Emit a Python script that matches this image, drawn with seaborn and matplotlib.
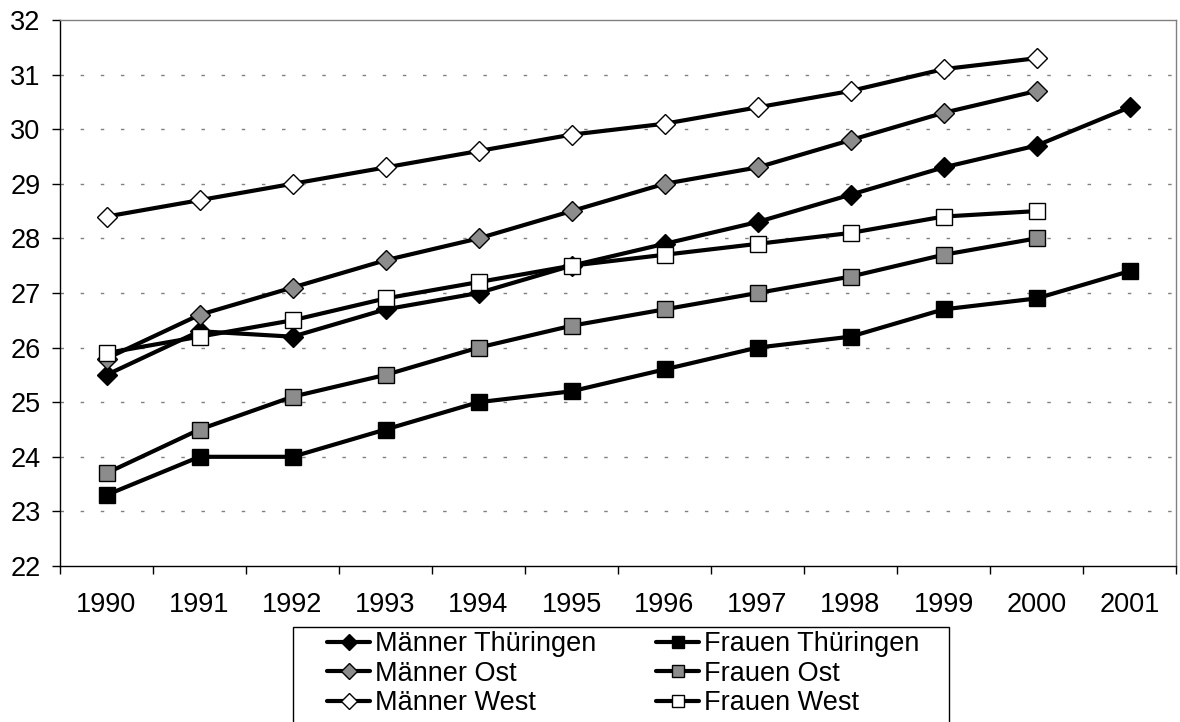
import matplotlib
matplotlib.use("Agg")
import matplotlib.pyplot as plt
import seaborn as sns
import pandas as pd
import numpy as np
from matplotlib.ticker import FixedLocator
from matplotlib.patches import Rectangle

years = ["1990", "1991", "1992", "1993", "1994", "1995", "1996", "1997", "1998", "1999", "2000", "2001"]

maenner_thueringen = [25.5, 26.3, 26.2, 26.7, 27.0, 27.5, 27.9, 28.3, 28.8, 29.3, 29.7, 30.4]
maenner_ost = [25.8, 26.6, 27.1, 27.6, 28.0, 28.5, 29.0, 29.3, 29.8, 30.3, 30.7]
maenner_west = [28.4, 28.7, 29.0, 29.3, 29.6, 29.9, 30.1, 30.4, 30.7, 31.1, 31.3]
frauen_thueringen = [23.3, 24.0, 24.0, 24.5, 25.0, 25.2, 25.6, 26.0, 26.2, 26.7, 26.9, 27.4]
frauen_ost = [23.7, 24.5, 25.1, 25.5, 26.0, 26.4, 26.7, 27.0, 27.3, 27.7, 28.0]
frauen_west = [25.9, 26.2, 26.5, 26.9, 27.2, 27.5, 27.7, 27.9, 28.1, 28.4, 28.5]

series = [
    ("Männer Thüringen", maenner_thueringen, "D", "black"),
    ("Männer Ost", maenner_ost, "D", "#8c8c8c"),
    ("Männer West", maenner_west, "D", "white"),
    ("Frauen Thüringen", frauen_thueringen, "s", "black"),
    ("Frauen Ost", frauen_ost, "s", "#8c8c8c"),
    ("Frauen West", frauen_west, "s", "white"),
]

sns.set_theme(style="white")
plt.rcParams["font.family"] = ["Liberation Sans", "DejaVu Sans"]

fig = plt.figure(figsize=(11.8, 7.22), dpi=100)
ax = fig.add_axes([60 / 1180, 1 - 566 / 722, (1176 - 60) / 1180, (566 - 20) / 722])

draw_order = [1, 2, 0, 4, 3, 5]
handles = {}
for i in draw_order:
    name, vals, mk, fc = series[i]
    df = pd.DataFrame({"x": np.arange(len(vals)), "y": vals})
    sns.lineplot(data=df, x="x", y="y", ax=ax, color="black", linewidth=3.0,
                 marker=mk, markersize=10 if mk == "D" else 11,
                 markerfacecolor=fc, markeredgecolor="black", markeredgewidth=1.0,
                 zorder=3 + i, legend=False)
    handles[name] = ax.lines[-1]

ax.set_xlim(-0.5, 11.5)
ax.set_ylim(22, 32)
ax.set_xlabel("")
ax.set_ylabel("")

ax.set_xticks(np.arange(12))
ax.set_xticklabels(years)
ax.xaxis.set_minor_locator(FixedLocator(np.arange(-0.5, 12.0, 1.0)))
ax.tick_params(axis="x", which="major", length=0, pad=19, labelsize=19.5, colors="black")
ax.tick_params(axis="x", which="minor", length=6, width=1, color="black", direction="out", bottom=True)
ax.set_yticks(np.arange(22, 33, 1))
ax.tick_params(axis="y", which="major", length=6, width=1, color="black", direction="out",
               left=True, pad=8, labelsize=19.5, labelcolor="black")

for v in range(23, 32):
    ax.axhline(v, color="#808080", linewidth=1.0, linestyle=(0, (2.5, 12)), zorder=1)

for s in ["left", "bottom"]:
    ax.spines[s].set_color("black")
    ax.spines[s].set_linewidth(1.0)
for s in ["top", "right"]:
    ax.spines[s].set_color("#808080")
    ax.spines[s].set_linewidth(1.0)

# legend box (extends below the figure edge, as in the reference)
fig.patches.append(Rectangle((293 / 1180, -0.05), (949 - 293) / 1180, (1 - 627 / 722) + 0.05,
                             transform=fig.transFigure, facecolor="white", edgecolor="black",
                             linewidth=1.0, zorder=0))

names = [s[0] for s in series]
leg = fig.legend([handles[n] for n in names], names, ncol=2,
                 loc="upper left", bbox_to_anchor=(327 / 1180, 1 - 631 / 722),
                 frameon=False, fontsize=19.5, handlelength=1.6, handletextpad=0.18,
                 columnspacing=2.2, labelspacing=0.13, borderpad=0,
                 borderaxespad=0, markerscale=0.8)
for t in leg.get_texts():
    t.set_color("black")

fig.savefig("out.png", dpi=100)
